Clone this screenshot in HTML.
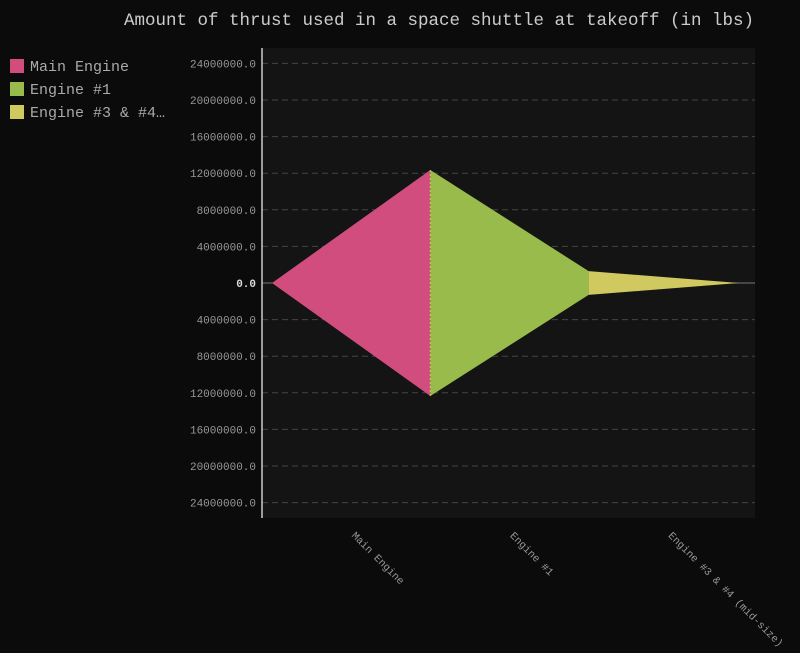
<!DOCTYPE html>
<html><head><meta charset="utf-8"><style>
body{margin:0;background:#0b0b0b;}
svg text{font-family:"Liberation Mono",monospace;}
</style></head><body>
<svg width="800" height="648" xmlns="http://www.w3.org/2000/svg">
<rect width="800" height="648" fill="#0b0b0b"/>
<text x="439" y="25" text-anchor="middle" font-size="17.5" fill="#cccccc">Amount of thrust used in a space shuttle at takeoff (in lbs)</text>
<rect x="262" y="48" width="493" height="470" fill="#141414"/>
<g id="grid"></g>
<g id="marks"></g>
<line x1="262" y1="48" x2="262" y2="518" stroke="#cccccc" stroke-width="1.5"/>
<g id="legend"></g>
<g id="xlabels"></g>
</svg>
<script>
const categories=["Main Engine","Engine #1","Engine #3 & #4 (mid-size)"];
const legendLabels=["Main Engine","Engine #1","Engine #3 & #4…"];
const values=[24700000,2600000,0];
const colors=["#d14d7e","#98bb4b","#cfc95f"];
const yTicks=[-24000000,-20000000,-16000000,-12000000,-8000000,-4000000,0,4000000,8000000,12000000,16000000,20000000,24000000];
const NS="http://www.w3.org/2000/svg";
const y0=283, pxPer=36.6/4000000;
function y(v){return y0-v*pxPer;}
const xStart=272, colW=158.3;
function x(i){return xStart+i*colW;}
function mk(t,a,p){const e=document.createElementNS(NS,t);for(const k in a)e.setAttribute(k,a[k]);p.appendChild(e);return e;}
const grid=document.getElementById('grid');
yTicks.forEach(v=>{
  const l=mk('line',{x1:262,x2:755,y1:y(v),y2:y(v),stroke:v===0?'#777':'#444','stroke-dasharray':v===0?'':'6,4'},grid);
  
  
  const t=mk('text',{x:256,y:y(v)+4,'text-anchor':'end','font-size':11,fill:v===0?'#ddd':'#999','font-weight':v===0?'bold':'normal'},grid);
  t.textContent=Math.abs(v).toFixed(1);
  
  
});
const marks=document.getElementById('marks');
const segs=[[0,values[0]],[values[0],values[1]],[values[1],values[2]]];
segs.forEach((s,i)=>{
  const x1=x(i), x2=(i===segs.length-1)?x(i+1)-8:x(i+1);
  const a=s[0]/2,b=s[1]/2;
  const pts=[[x1,y(a)],[x2,y(b)],[x2,y(-b)],[x1,y(-a)]];
  const p=mk('polygon',{points:pts.map(q=>q.join(',')).join(' '),fill:colors[i]},marks);
  
  
});
const dl=mk('line',{x1:x(1),x2:x(1),y1:y(values[0]/2),y2:y(-values[0]/2),stroke:'#cfc95f','stroke-dasharray':'2,2','stroke-width':1},marks);


const leg=document.getElementById('legend');
legendLabels.forEach((n,i)=>{
  const r=mk('rect',{x:10,y:59+i*23,width:14,height:14,fill:colors[i]},leg);
  
  
  const t=mk('text',{x:30,y:71+i*23,'font-size':15,fill:'#aaa'},leg);
  t.textContent=n;
  
  
});
const xl=document.getElementById('xlabels');
categories.forEach((c,i)=>{
  const cx=(x(i)+x(i+1))/2;
  const t=mk('text',{x:cx,y:536,'font-size':10.5,fill:'#999',transform:`rotate(45 ${cx} 536)`},xl);
  t.textContent=c;
  
  
});
</script>
</body></html>
